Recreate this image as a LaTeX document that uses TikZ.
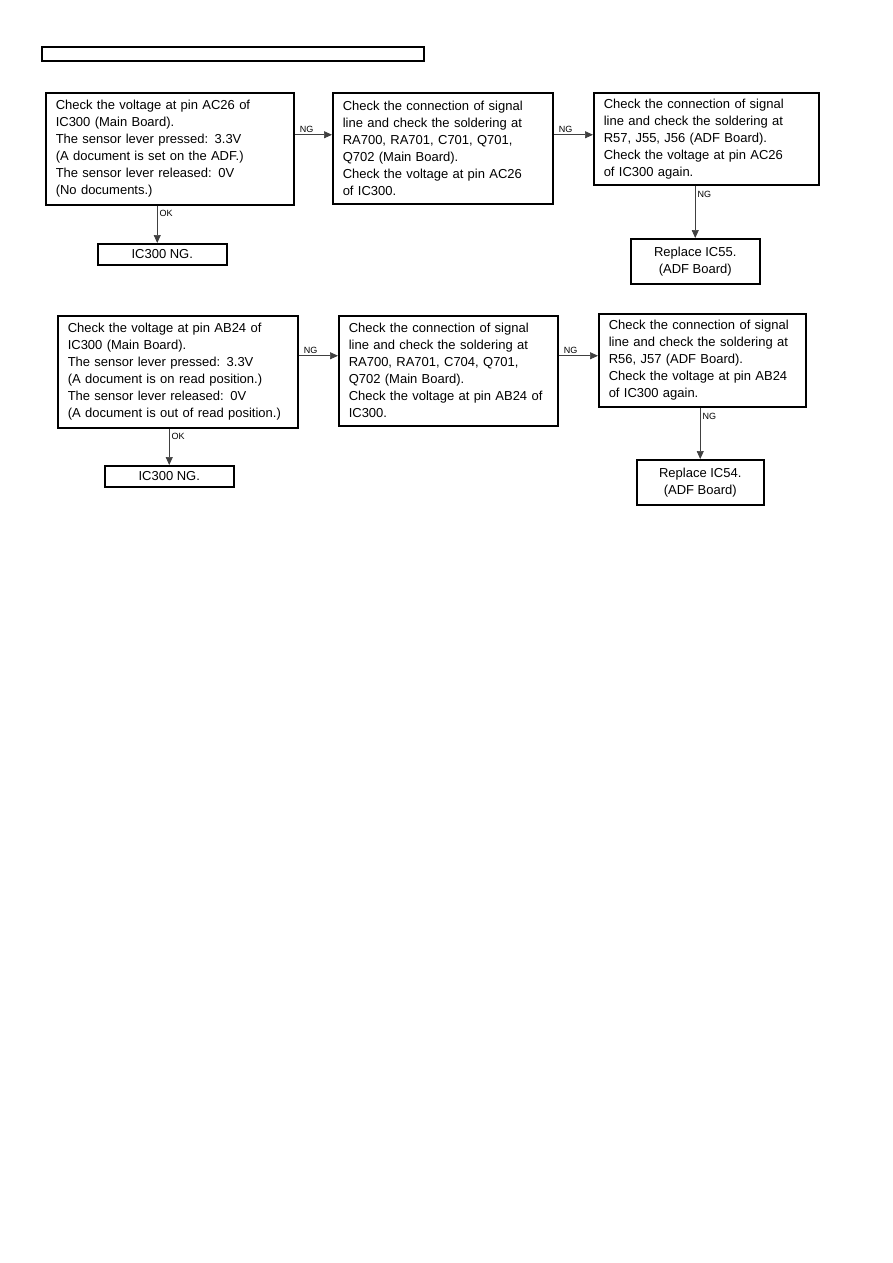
\documentclass[tikz,border=0pt]{standalone}
\usepackage{fontspec}
\setmainfont{Liberation Sans}
\usetikzlibrary{arrows.meta,positioning,calc}
\newcommand{\flowfont}{\fontsize{13}{17}\selectfont}
\newcommand{\tagfont}{\fontsize{9}{10}\selectfont}

\begin{document}
\begin{tikzpicture}[x=1pt, y=-1pt, >={Triangle[length=8pt,width=7pt]},
  chk/.style={draw, line width=1.5pt, anchor=north west, align=left,
    inner xsep=10pt, inner ysep=0pt, font=\flowfont},
  res/.style={draw, line width=1.5pt, anchor=north west, align=center,
    inner sep=0pt, font=\flowfont},
  flow/.style={->, line width=0.7pt, draw=black!75},
  tag/.style={font=\tagfont, inner sep=2pt}]
\useasboundingbox (0,0) rectangle (893,1263);
\draw[line width=1.5pt] (42,47) rectangle (424,61);
\node[chk, text width=228pt, minimum height=112pt] (c1) at (45,92)
  {Check the voltage at pin AC26 of\\IC300 (Main Board).\\The sensor lever pressed: 3.3V\\(A document is set on the ADF.)\\The sensor lever released: 0V\\(No documents.)};
\node[chk, text width=200pt, minimum height=111pt] (c2) at (332,92)
  {Check the connection of signal\\line and check the soldering at\\RA700, RA701, C701, Q701,\\Q702 (Main Board).\\Check the voltage at pin AC26\\of IC300.};
\node[chk, text width=205pt, minimum height=92pt] (c3) at (593,92)
  {Check the connection of signal\\line and check the soldering at\\R57, J55, J56 (ADF Board).\\Check the voltage at pin AC26\\of IC300 again.};
\node[res, minimum width=129pt, minimum height=21pt] (ok1) at (97,243) {IC300 NG.};
\node[res, minimum width=129pt, minimum height=45pt] (r1) at (630,238) {Replace IC55.\\(ADF Board)};
\node[chk, text width=220pt, minimum height=112pt] (c4) at (57,315)
  {Check the voltage at pin AB24 of\\IC300 (Main Board).\\The sensor lever pressed: 3.3V\\(A document is on read position.)\\The sensor lever released: 0V\\(A document is out of read position.)};
\node[chk, text width=199pt, minimum height=110pt] (c5) at (338,315)
  {Check the connection of signal\\line and check the soldering at\\RA700, RA701, C704, Q701,\\Q702 (Main Board).\\Check the voltage at pin AB24 of\\IC300.};
\node[chk, text width=187pt, minimum height=93pt] (c6) at (598,313)
  {Check the connection of signal\\line and check the soldering at\\R56, J57 (ADF Board).\\Check the voltage at pin AB24\\of IC300 again.};
\node[res, minimum width=129pt, minimum height=21pt] (ok2) at (104,465) {IC300 NG.};
\node[res, minimum width=127pt, minimum height=45pt] (r2) at (636,459) {Replace IC54.\\(ADF Board)};
\draw[flow] ([yshift=14pt]c1.east) -- node[tag, pos=0, anchor=south west, xshift=3pt] {NG} ([yshift=14pt]c1.east -| c2.west);
\draw[flow] ([yshift=14pt]c1.east -| c2.east) -- node[tag, pos=0, anchor=south west, xshift=3pt] {NG} ([yshift=14pt]c1.east -| c3.west);
\draw[flow] ([xshift=-5pt]ok1.north |- c1.south) -- node[tag, pos=0, anchor=north west, yshift=-2pt] {OK} ([xshift=-5pt]ok1.north);
\draw[flow] (r1.north |- c3.south) -- node[tag, pos=0, anchor=north west, yshift=-3pt] {NG} (r1.north);
\draw[flow] ([yshift=16pt]c4.east) -- node[tag, pos=0, anchor=south west, xshift=3pt] {NG} ([yshift=16pt]c4.east -| c5.west);
\draw[flow] ([yshift=16pt]c4.east -| c5.east) -- node[tag, pos=0, anchor=south west, xshift=3pt] {NG} ([yshift=16pt]c4.east -| c6.west);
\draw[flow] (ok2.north |- c4.south) -- node[tag, pos=0, anchor=north west, yshift=-2pt] {OK} (ok2.north);
\draw[flow] (r2.north |- c6.south) -- node[tag, pos=0, anchor=north west, yshift=-3pt] {NG} (r2.north);
\end{tikzpicture}
\end{document}
